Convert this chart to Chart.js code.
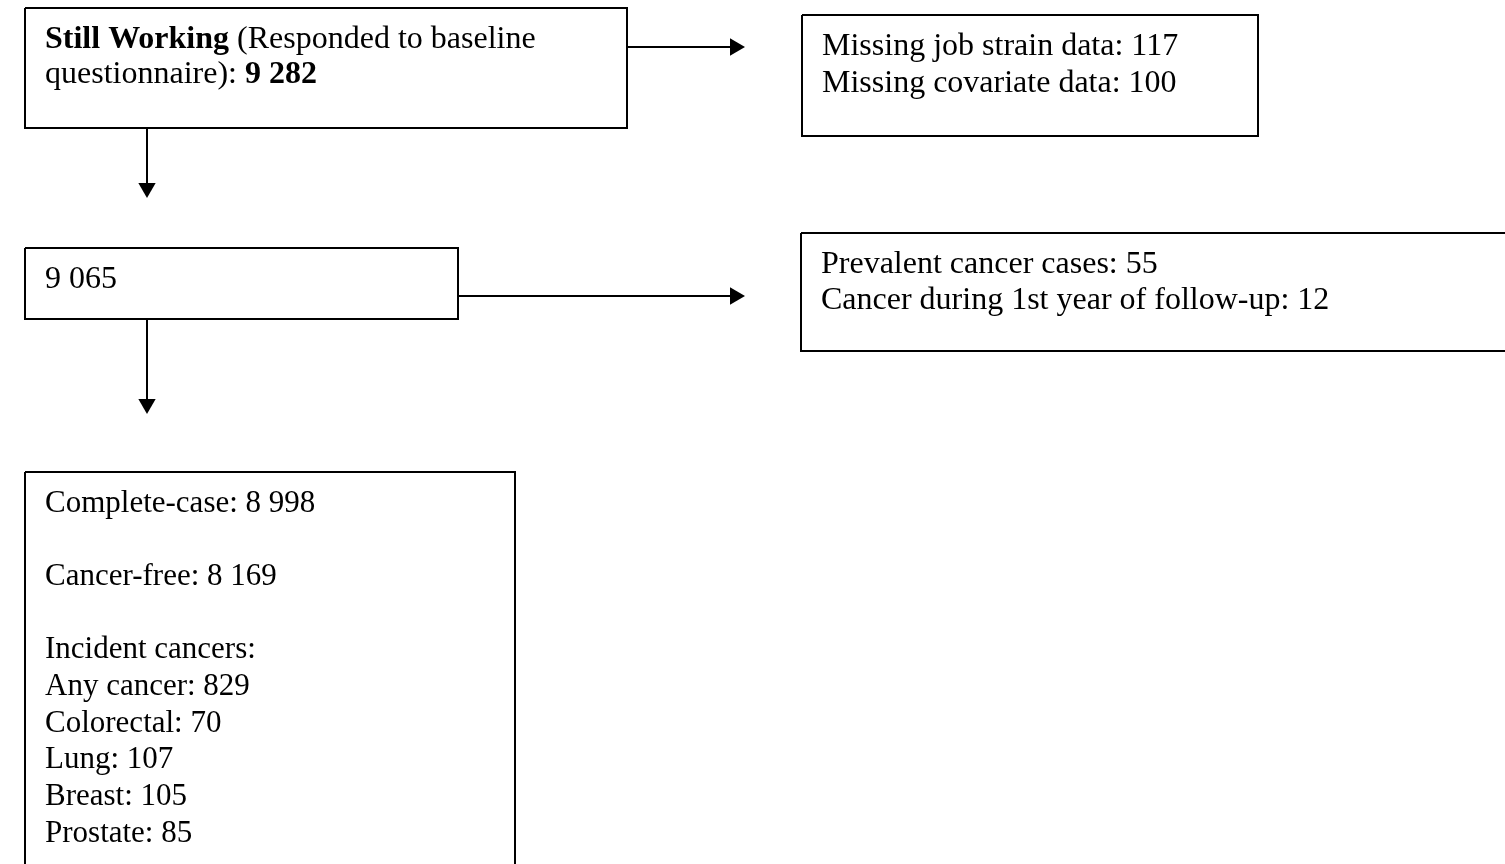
<!DOCTYPE html>
<html>
<head>
<meta charset="utf-8">
<script src="https://cdn.jsdelivr.net/npm/chart.js@4/dist/chart.umd.min.js"></script>
<style>
  html, body { margin: 0; padding: 0; background: #ffffff; overflow: hidden; }
  canvas { display: block; }
</style>
</head>
<body>
<canvas id="c" width="1505" height="864"></canvas>
<script>
// ---------- data (flow counts) ----------
const stillWorking = 9282;
const missingJobStrain = 117;
const missingCovariate = 100;
const afterMissing = 9065;
const prevalentCancer = 55;
const cancerFirstYear = 12;
const completeCase = 8998;
const cancerFree = 8169;
const cancerTypes = ['Any cancer', 'Colorectal', 'Lung', 'Breast', 'Prostate'];
const cancerCounts = [829, 70, 107, 105, 85];

// ---------- nodes and flows ----------
const nodeIds = ['working', 'missing', 'remaining', 'excluded', 'final'];
const flowFrom = ['working', 'working', 'remaining', 'remaining'];
const flowDir  = ['right', 'down', 'right', 'down'];

// ---------- layout (page units, origin top-left) ----------
const boxLeft   = [25, 802, 25, 801, 25];
const boxTop    = [8, 15, 248, 233, 472];
const boxRight  = [627, 1258, 458, 1530, 515];
const boxBottom = [128, 136, 319, 351, 900];
const nodeFont  = [32, 32, 32, 32, 31];
const nodeStep  = [35.5, 37, 36, 36, 36.7];
const flowAnchor = [47, 147, 296, 147];   // y for right arrows, x for down arrows
const flowTip    = [745, 198, 745, 414];  // x for right arrows, y for down arrows
const arrowHead = 10;
const textPadX = 20;
const textFirstBaseline = 39.5;
const fontFamily = '"Liberation Serif", "Times New Roman", serif';

const fmt = n => String(n).replace(/\B(?=(\d{3})+(?!\d))/g, '\u00a0');

const nodeText = {
  working: [
    [{ t: 'Still Working', b: true }, { t: ' (Responded to baseline' }],
    [{ t: 'questionnaire): ' }, { t: fmt(stillWorking), b: true }]
  ],
  missing: [
    [{ t: 'Missing job strain data: ' + missingJobStrain }],
    [{ t: 'Missing covariate data: ' + missingCovariate }]
  ],
  remaining: [
    [{ t: fmt(afterMissing) }]
  ],
  excluded: [
    [{ t: 'Prevalent cancer cases: ' + prevalentCancer }],
    [{ t: 'Cancer during 1st year of follow-up: ' + cancerFirstYear }]
  ],
  final: [
    [{ t: 'Complete-case: ' + fmt(completeCase) }],
    [],
    [{ t: 'Cancer-free: ' + fmt(cancerFree) }],
    [],
    [{ t: 'Incident cancers:' }]
  ].concat(cancerTypes.map((c, i) => [{ t: c + ': ' + cancerCounts[i] }]))
};

// ---------- datasets ----------
const datasets = [];
nodeIds.forEach((id, i) => {
  const l = boxLeft[i], r = boxRight[i], t = boxTop[i], b = boxBottom[i];
  datasets.push({
    label: id,
    showLine: true,
    data: [{x: l, y: t}, {x: r, y: t}, {x: r, y: b}, {x: l, y: b}, {x: l, y: t}],
    borderColor: '#000',
    borderWidth: 2,
    pointRadius: 0,
    tension: 0,
    fill: false
  });
});
flowFrom.forEach((from, k) => {
  const i = nodeIds.indexOf(from);
  let pts, rot;
  if (flowDir[k] === 'right') {
    pts = [{x: boxRight[i], y: flowAnchor[k]}, {x: flowTip[k] - arrowHead, y: flowAnchor[k]}];
    rot = 90;
  } else {
    pts = [{x: flowAnchor[k], y: boxBottom[i]}, {x: flowAnchor[k], y: flowTip[k] - arrowHead}];
    rot = 180;
  }
  datasets.push({
    label: 'flow' + k,
    showLine: true,
    data: pts,
    borderColor: '#000',
    borderWidth: 2,
    pointRadius: [0, arrowHead],
    pointStyle: 'triangle',
    pointRotation: [0, rot],
    pointBackgroundColor: '#000',
    pointBorderColor: '#000',
    pointBorderWidth: 0,
    tension: 0,
    fill: false
  });
});

// ---------- plugins ----------
const whiteBg = {
  id: 'whiteBg',
  beforeDraw(chart) {
    const ctx = chart.ctx;
    ctx.save();
    ctx.fillStyle = '#fff';
    ctx.fillRect(0, 0, chart.width, chart.height);
    ctx.restore();
  }
};
const boxText = {
  id: 'boxText',
  afterDatasetsDraw(chart) {
    const ctx = chart.ctx;
    const xs = chart.scales.x, ys = chart.scales.y;
    ctx.save();
    ctx.fillStyle = '#000';
    ctx.textBaseline = 'alphabetic';
    ctx.textAlign = 'left';
    nodeIds.forEach((id, i) => {
      const lines = nodeText[id];
      lines.forEach((segs, li) => {
        let x = xs.getPixelForValue(boxLeft[i] + textPadX);
        const y = ys.getPixelForValue(boxTop[i] + textFirstBaseline + li * nodeStep[i]);
        segs.forEach(s => {
          ctx.font = (s.b ? 'bold ' : '') + nodeFont[i] + 'px ' + fontFamily;
          ctx.fillText(s.t, x, y);
          x += ctx.measureText(s.t).width;
        });
      });
    });
    ctx.restore();
  }
};

new Chart(document.getElementById('c'), {
  type: 'scatter',
  data: { datasets },
  options: {
    responsive: false,
    animation: false,
    events: [],
    layout: { padding: 0, autoPadding: false },
    plugins: { legend: { display: false }, tooltip: { enabled: false }, title: { display: false } },
    scales: {
      x: { type: 'linear', min: 0, max: 1505, display: false },
      y: { type: 'linear', min: 0, max: 864, reverse: true, display: false }
    }
  },
  plugins: [whiteBg, boxText]
});
</script>
</body>
</html>
